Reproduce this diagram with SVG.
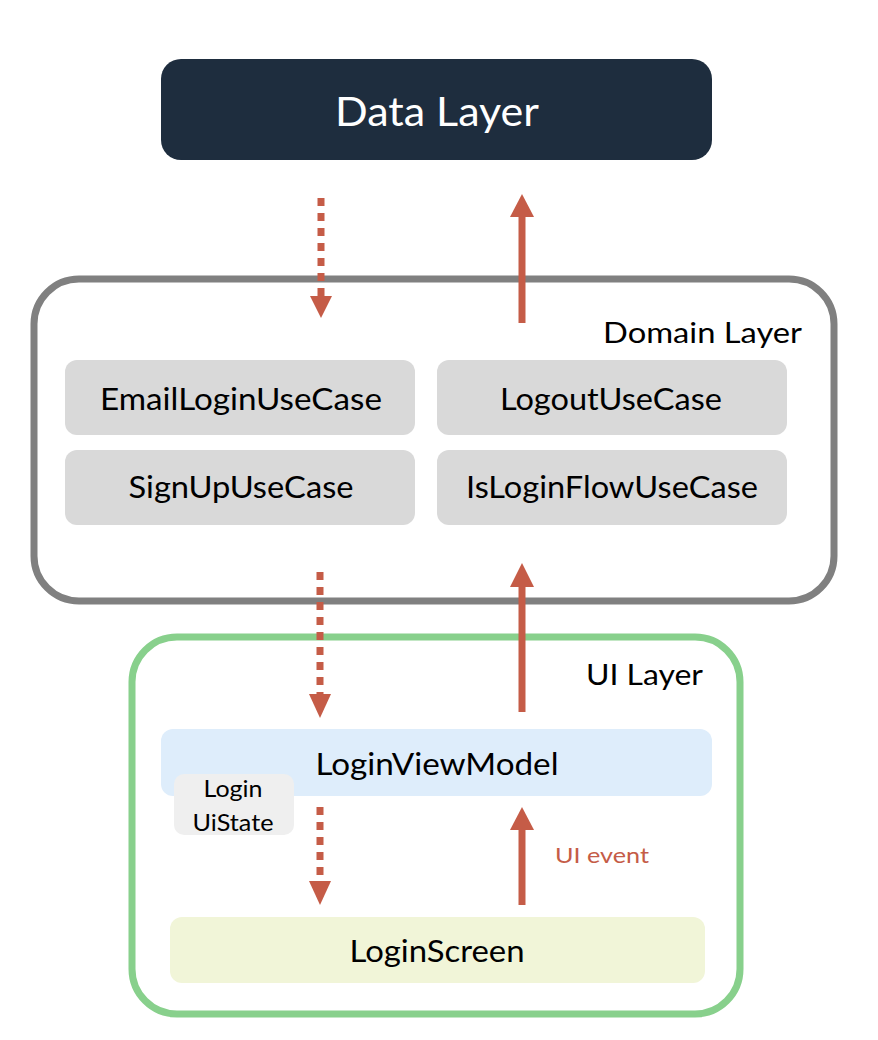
<svg xmlns="http://www.w3.org/2000/svg" width="878" height="1040" viewBox="0 0 878 1040">
<defs>
<style>
text{font-family:Lato,"Liberation Sans",sans-serif;fill:#000}
.uc{fill:#d9d9d9}
.c{text-anchor:middle}
.arr{stroke:#c55c47;stroke-width:7;fill:none}
.dash{stroke-dasharray:8 7}
.head{fill:#c55c47}
</style>
</defs>
<rect width="878" height="1040" fill="#fff"/>
<g id="data-layer">
<rect x="161" y="59" width="551" height="101" rx="20" fill="#1e2d3e"/>
<text x="437" y="126" class="c" font-size="40" textLength="204" lengthAdjust="spacingAndGlyphs" style="fill:#fff">Data Layer</text>
</g>
<g id="domain-layer">
<rect x="34" y="279" width="800" height="322" rx="45" fill="#fff" stroke="#808080" stroke-width="7"/>
<text x="802" y="343" font-size="28" text-anchor="end" textLength="199" lengthAdjust="spacingAndGlyphs">Domain Layer</text>
</g>
<g id="email-login">
<rect class="uc" x="65" y="360" width="350" height="75" rx="12"/>
<text x="241" y="410" class="c" font-size="30" textLength="282" lengthAdjust="spacingAndGlyphs">EmailLoginUseCase</text>
</g>
<g id="logout">
<rect class="uc" x="437" y="360" width="350" height="75" rx="12"/>
<text x="611" y="410" class="c" font-size="30" textLength="222" lengthAdjust="spacingAndGlyphs">LogoutUseCase</text>
</g>
<g id="signup">
<rect class="uc" x="65" y="450" width="350" height="75" rx="12"/>
<text x="241" y="498" class="c" font-size="30" textLength="225" lengthAdjust="spacingAndGlyphs">SignUpUseCase</text>
</g>
<g id="is-login-flow">
<rect class="uc" x="437" y="450" width="350" height="75" rx="12"/>
<text x="612" y="498" class="c" font-size="30" textLength="292" lengthAdjust="spacingAndGlyphs">IsLoginFlowUseCase</text>
</g>
<g id="ui-layer">
<rect x="132" y="637" width="608" height="377" rx="45" fill="#fff" stroke="#88d08c" stroke-width="7"/>
<text x="703" y="685" font-size="29" text-anchor="end" textLength="117" lengthAdjust="spacingAndGlyphs">UI Layer</text>
</g>
<g id="login-view-model">
<rect x="161" y="729" width="551" height="67" rx="12" fill="#deedfb"/>
<text x="437" y="775" class="c" font-size="30" textLength="243" lengthAdjust="spacingAndGlyphs">LoginViewModel</text>
</g>
<g id="login-uistate">
<rect x="174" y="774" width="120" height="61" rx="10" fill="#efefef"/>
<text x="233" y="797" class="c" font-size="23" textLength="59" lengthAdjust="spacingAndGlyphs">Login</text>
<text x="233" y="831" class="c" font-size="23" textLength="81" lengthAdjust="spacingAndGlyphs">UiState</text>
</g>
<g id="login-screen">
<rect x="170" y="917" width="535" height="66" rx="12" fill="#f1f5d8"/>
<text x="437" y="962" class="c" font-size="30" textLength="175" lengthAdjust="spacingAndGlyphs">LoginScreen</text>
</g>
<g id="connectors">
<line class="arr dash" x1="321" y1="198" x2="321" y2="296"/>
<polygon class="head" points="310,296 332,296 321,318"/>
<line class="arr" x1="522" y1="323" x2="522" y2="216"/>
<polygon class="head" points="510,217 534,217 522,194"/>
<line class="arr dash" x1="320" y1="572" x2="320" y2="694"/>
<polygon class="head" points="309,694 331,694 320,718"/>
<line class="arr" x1="522" y1="712" x2="522" y2="586"/>
<polygon class="head" points="510,587 534,587 522,563"/>
<line class="arr dash" x1="320" y1="807" x2="320" y2="881"/>
<polygon class="head" points="309,881 331,881 320,905"/>
<line class="arr" x1="522" y1="905" x2="522" y2="829"/>
<polygon class="head" points="510,830 534,830 522,807"/>
<text x="555" y="863" font-size="22" textLength="94" lengthAdjust="spacingAndGlyphs" style="fill:#c55c47">UI event</text>
</g>
</svg>
